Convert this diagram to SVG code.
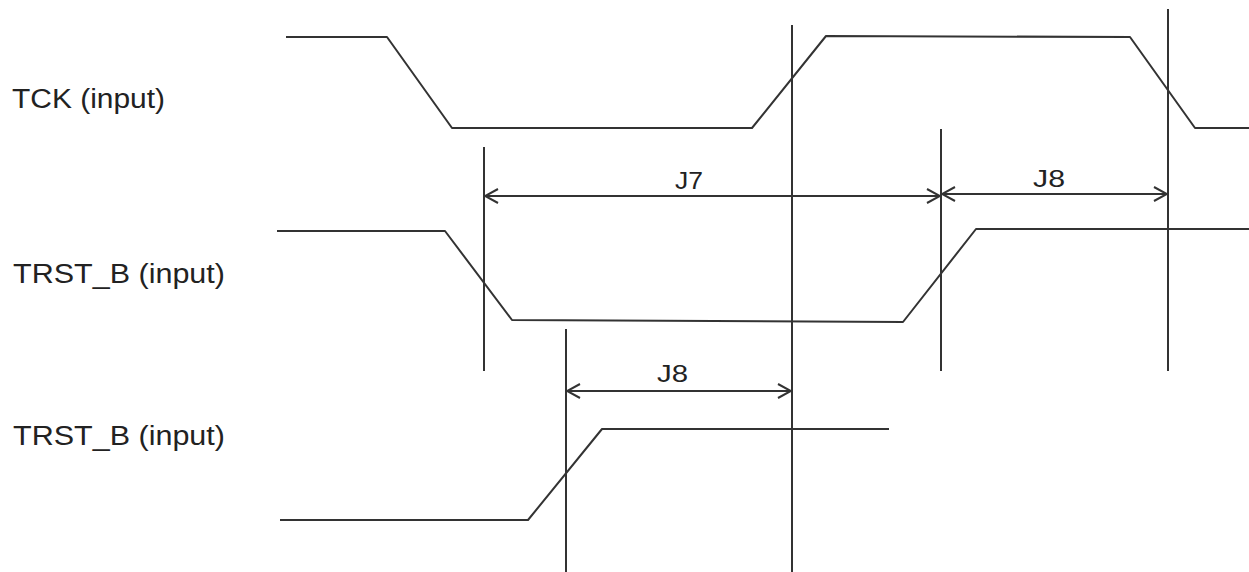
<svg xmlns="http://www.w3.org/2000/svg" width="1249" height="572" viewBox="0 0 1249 572">
<defs>
<marker id="ah" viewBox="0 0 16 16" refX="15" refY="8" markerWidth="16" markerHeight="16" markerUnits="userSpaceOnUse" orient="auto-start-reverse">
<path d="M2,1 L15,8 L2,15" fill="none" stroke="#333" stroke-width="2"/>
</marker>
<style>
.w{fill:none;stroke:#333;stroke-width:2;stroke-linejoin:round}
.v{stroke:#333;stroke-width:2}
.d{stroke:#333;stroke-width:2;marker-start:url(#ah);marker-end:url(#ah)}
text{font-family:"Liberation Sans",Arial,sans-serif;font-size:27px;fill:#222}
.s{font-size:23px}
</style>
</defs>
<rect width="1249" height="572" fill="#fff"/>
<g id="labels">
<text x="12" y="108" textLength="153" lengthAdjust="spacingAndGlyphs">TCK (input)</text>
<text x="13" y="283" textLength="212" lengthAdjust="spacingAndGlyphs">TRST_B (input)</text>
<text x="13" y="445" textLength="212" lengthAdjust="spacingAndGlyphs">TRST_B (input)</text>
</g>
<g id="tck"><polyline class="w" points="286,37 387,37 452,128 752,128 826,36 1130,37 1195,128 1249,128"/></g>
<g id="trst1"><polyline class="w" points="277,231 445,231 512,320 903,322 976,229 1249,229"/></g>
<g id="trst2"><polyline class="w" points="280,520 528,520 602,429 889,429"/></g>
<g id="connectors">
<line class="v" x1="792" y1="25" x2="792" y2="572"/>
<line class="v" x1="1168" y1="9" x2="1168" y2="371"/>
<line class="v" x1="484" y1="147" x2="484" y2="371"/>
<line class="v" x1="941" y1="129" x2="941" y2="371"/>
<line class="v" x1="566" y1="329" x2="566" y2="572"/>
<line class="d" x1="485" y1="196" x2="940" y2="196"/>
<line class="d" x1="942" y1="194" x2="1167" y2="194"/>
<line class="d" x1="567" y1="391" x2="791" y2="391"/>
</g>
<g id="dim-labels">
<text class="s" x="675" y="189" textLength="28" lengthAdjust="spacingAndGlyphs">J7</text>
<text class="s" x="1033" y="187" textLength="32" lengthAdjust="spacingAndGlyphs">J8</text>
<text class="s" x="657" y="382" textLength="31" lengthAdjust="spacingAndGlyphs">J8</text>
</g>
</svg>
